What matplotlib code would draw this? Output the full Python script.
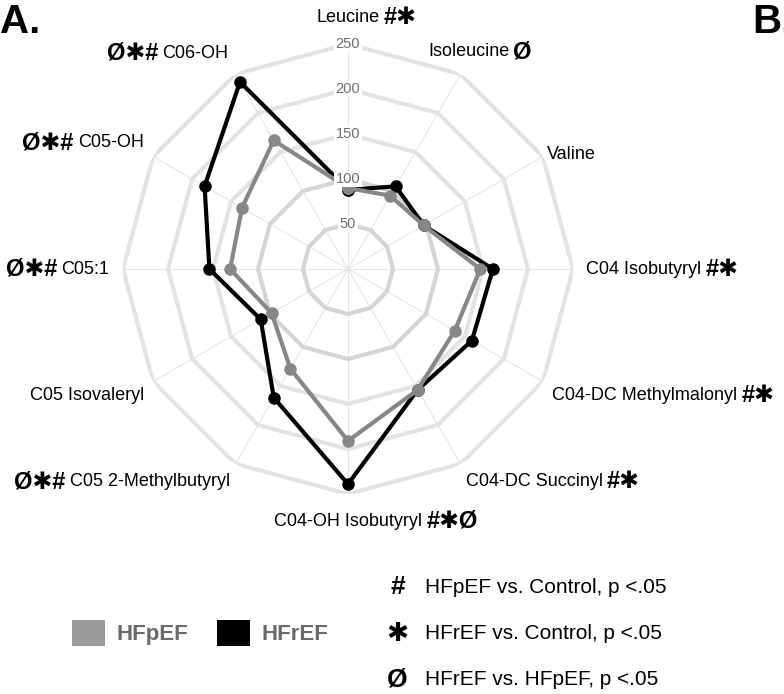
import numpy as np
import matplotlib
matplotlib.use('Agg')
import matplotlib.pyplot as plt
from matplotlib.patches import Patch

plt.rcParams['font.family'] = ['Liberation Sans', 'DejaVu Sans']

# metabolites, clockwise from the top
metabolites = ['Leucine', 'Isoleucine', 'Valine', 'C04 Isobutyryl',
               'C04-DC Methylmalonyl', 'C04-DC Succinyl', 'C04-OH Isobutyryl',
               'C05 2-Methylbutyryl', 'C05 Isovaleryl', 'C05:1', 'C05-OH', 'C06-OH']
marks = ['#✱', 'Ø', '', '#✱', '#✱', '#✱', '#✱Ø', 'Ø✱#', '', 'Ø✱#', 'Ø✱#', 'Ø✱#']

# % of control
hfpef = [90, 94, 97, 147, 137, 155, 191, 128, 98, 131, 136, 165]
hfref = [88, 106, 97, 161, 159, 155, 239, 165, 112, 154, 184, 240]

ring_values = [50, 100, 150, 200, 250]

# label placement: radius, horizontal and vertical alignment
lab_r = [270, 268, 255, 265, 262, 262, 280, 262, 262, 265, 262, 266]
lab_ha = ['center', 'center', 'left', 'left', 'left', 'left', 'center',
          'right', 'right', 'right', 'right', 'right']
lab_va = ['bottom', 'bottom', 'center', 'center', 'top', 'top', 'center',
          'top', 'top', 'center', 'bottom', 'bottom']

n = len(metabolites)
theta = np.deg2rad(np.arange(n) * 360 / n)
theta_c = np.append(theta, theta[0])

fig = plt.figure(figsize=(7.84, 6.94), dpi=100)
ax = fig.add_axes([123 / 784, 200 / 694, 450 / 784, 450 / 694], projection='polar')
ax.set_theta_zero_location('N')
ax.set_theta_direction(-1)
ax.set_ylim(0, 250)
ax.set_axis_off()

# spokes
for t in theta:
    ax.plot([t, t], [0, 250], color='#e6e6e6', lw=0.8, zorder=1)

# polygon rings
for v in ring_values:
    col = '#d4d4d9' if v <= 100 else '#e3e3e3'
    ax.plot(theta_c, [v] * (n + 1), color=col, lw=3, zorder=1,
            solid_joinstyle='miter')

# series
ax.plot(theta_c, hfref + hfref[:1], color='black', lw=3, marker='o', ms=8,
        zorder=3)
ax.plot(theta_c, hfpef + hfpef[:1], color='#878787', lw=3, marker='o', ms=8,
        zorder=4)

# radial tick labels
for v in ring_values:
    ax.text(0, v, str(v), ha='center', va='center', fontsize=10.5, color='#6e6e6e',
            zorder=5, bbox=dict(boxstyle='square,pad=0.1', fc='white', ec='none'))

# axis labels with significance marks
for i in range(n):
    t = ax.text(theta[i], lab_r[i], metabolites[i], ha=lab_ha[i], va=lab_va[i],
                fontsize=13, color='black')
    if not marks[i]:
        continue
    if lab_ha[i] == 'right':
        ax.annotate(marks[i], xy=(0, 0.5), xycoords=t, xytext=(-3, 0),
                    textcoords='offset points', ha='right', va='center',
                    fontsize=17, fontweight='bold')
    else:
        ax.annotate(marks[i], xy=(1, 0.5), xycoords=t, xytext=(3, 0),
                    textcoords='offset points', ha='left', va='center',
                    fontsize=17, fontweight='bold')

# panel letters (B. belongs to the neighbouring panel and is cut at the edge)
fig.text(0.0, 0.995, 'A.', fontsize=29, fontweight='bold', ha='left', va='top')
fig.text(0.959, 0.995, 'B.', fontsize=29, fontweight='bold', ha='left', va='top')

# group legend
handles = [Patch(fc='#9b9b9b', ec='none'), Patch(fc='black', ec='none')]
fig.legend(handles, ['HFpEF', 'HFrEF'], loc='center', bbox_to_anchor=(0.255, 0.088),
           ncol=2, frameon=False, handlelength=1.5, handleheight=1.45,
           columnspacing=1.3, handletextpad=0.5,
           prop={'size': 16, 'weight': 'bold'}, labelcolor='#6a6a6a')

# significance key
key_sym = ['#', '✱', 'Ø']
key_txt = ['HFpEF vs. Control, p <.05', 'HFrEF vs. Control, p <.05',
           'HFrEF vs. HFpEF, p <.05']
key_y = [0.154, 0.087, 0.021]
for s, txt, y in zip(key_sym, key_txt, key_y):
    fig.text(0.507, y, s, fontsize=19, fontweight='bold', ha='center', va='center')
    fig.text(0.542, y, txt, fontsize=15, ha='left', va='center')

fig.savefig('out.png', dpi=100)
